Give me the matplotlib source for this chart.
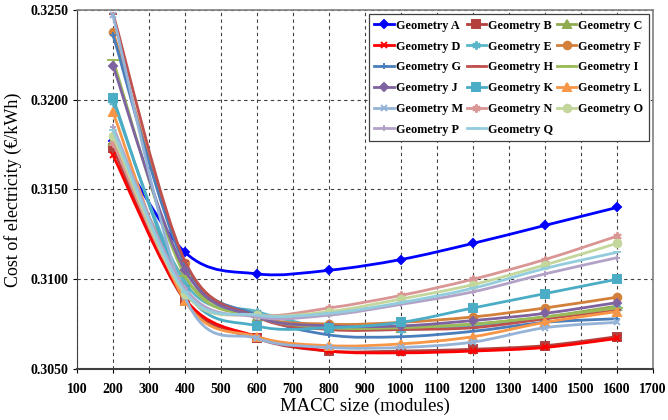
import matplotlib
matplotlib.use("Agg")
import matplotlib.pyplot as plt
from matplotlib.path import Path
from matplotlib.patches import PathPatch
from matplotlib.lines import Line2D
import numpy as np

plt.rcParams['font.family'] = ['Liberation Serif', 'DejaVu Serif']

sizes = [200, 400, 600, 800, 1000, 1200, 1400, 1600]
names = ["Geometry A", "Geometry B", "Geometry C", "Geometry D", "Geometry E", "Geometry F",
         "Geometry G", "Geometry H", "Geometry I", "Geometry J", "Geometry K", "Geometry L",
         "Geometry M", "Geometry N", "Geometry O", "Geometry P", "Geometry Q"]

geo_a = [0.3177, 0.3115, 0.3103, 0.3105, 0.3111, 0.3120, 0.3130, 0.3140]
geo_b = [0.3173, 0.3088, 0.3067, 0.3060, 0.3060, 0.3061, 0.3063, 0.3068]
geo_c = [0.3177, 0.3100, 0.3079, 0.3073, 0.3073, 0.3075, 0.3079, 0.3085]
geo_d = [0.3169, 0.3089, 0.3068, 0.3060, 0.3059, 0.3060, 0.3062, 0.3067]
geo_e = [0.3199, 0.3098, 0.3082, 0.3073, 0.3072, 0.3074, 0.3078, 0.3084]
geo_f = [0.3238, 0.3109, 0.3080, 0.3075, 0.3076, 0.3079, 0.3084, 0.3090]
geo_g = [0.3236, 0.3108, 0.3080, 0.3069, 0.3068, 0.3071, 0.3076, 0.3078]
geo_h = [0.3248, 0.3110, 0.3079, 0.3072, 0.3072, 0.3073, 0.3078, 0.3083]
geo_i = [0.3222, 0.3102, 0.3079, 0.3073, 0.3073, 0.3075, 0.3079, 0.3084]
geo_j = [0.3219, 0.3105, 0.3079, 0.3074, 0.3074, 0.3077, 0.3081, 0.3087]
geo_k = [0.3201, 0.3094, 0.3074, 0.3073, 0.3076, 0.3084, 0.3092, 0.3100]
geo_l = [0.3193, 0.3088, 0.3068, 0.3063, 0.3064, 0.3068, 0.3076, 0.3082]
geo_m = [0.3247, 0.3090, 0.3067, 0.3062, 0.3062, 0.3065, 0.3073, 0.3076]
geo_n = [0.3176, 0.3092, 0.3080, 0.3084, 0.3091, 0.3100, 0.3111, 0.3124]
geo_o = [0.3180, 0.3092, 0.3080, 0.3082, 0.3089, 0.3097, 0.3108, 0.3120]
geo_p = [0.3185, 0.3095, 0.3079, 0.3080, 0.3086, 0.3093, 0.3103, 0.3112]
geo_q = [0.3183, 0.3093, 0.3080, 0.3081, 0.3087, 0.3095, 0.3106, 0.3115]

series = [geo_a, geo_b, geo_c, geo_d, geo_e, geo_f, geo_g, geo_h, geo_i,
          geo_j, geo_k, geo_l, geo_m, geo_n, geo_o, geo_p, geo_q]

colors = ['#0000FF', '#B3403D', '#8FAA4F', '#FF0000', '#5BB5C9', '#D2803A',
          '#4A7EBB', '#C0504D', '#9BBB59', '#7F63A1', '#4BACC6', '#F79646',
          '#95B3D7', '#D99694', '#C3D69B', '#B3A2C7', '#93CDDD']
markers = ['D', 's', '^', 'x', (6, 2, 0), 'o', '+', '_', '_',
           'D', 's', '^', 'x', (6, 2, 0), 'o', '+', '_']
msizes = [4.5, 5.5, 5.5, 5, 6, 5.5, 5, 6, 8, 4.5, 5.5, 5.5, 5, 6, 5.5, 5, 6]

fig = plt.figure(figsize=(6.68, 4.2), dpi=100)
ax = fig.add_axes([77/668, 51/420, 576/668, 359/420])


def smooth_path(xs, ys):
    pts = np.column_stack([xs, ys]).astype(float)
    n = len(pts)
    verts = [pts[0]]
    codes = [Path.MOVETO]
    for i in range(n - 1):
        p0 = pts[i - 1] if i > 0 else pts[i]
        p1 = pts[i]
        p2 = pts[i + 1]
        p3 = pts[i + 2] if i + 2 < n else pts[i + 1]
        c1 = p1 + (p2 - p0) / 6.0
        c2 = p2 - (p3 - p1) / 6.0
        verts += [c1, c2, p2]
        codes += [Path.CURVE4] * 3
    return Path(verts, codes)


handles = []
for k, (vals, col, mk, ms, nm) in enumerate(zip(series, colors, markers, msizes, names)):
    patch = PathPatch(smooth_path(sizes, vals), facecolor='none', edgecolor=col,
                      lw=2.0, zorder=3 + k * 0.01, capstyle='round', joinstyle='round')
    ax.add_patch(patch)
    ax.plot(sizes, vals, linestyle='none', marker=mk, markersize=ms, color=col,
            markeredgecolor=col, markeredgewidth=1.4, zorder=3.005 + k * 0.01)
    handles.append(Line2D([0], [0], color=col, lw=2, marker=mk, markersize=ms,
                          markeredgecolor=col, markeredgewidth=1.4))

ax.set_xlim(100, 1700)
ax.set_ylim(0.3050, 0.3250)
ax.set_xticks(np.arange(100, 1701, 100))
ax.set_yticks([0.3050, 0.3100, 0.3150, 0.3200, 0.3250])
ax.set_yticklabels(['0.3050', '0.3100', '0.3150', '0.3200', '0.3250'])
for lab in ax.get_xticklabels() + ax.get_yticklabels():
    lab.set_fontweight('bold')
    lab.set_fontsize(10)
ax.tick_params(axis='x', length=3, width=0.8, pad=7, direction='out')
ax.tick_params(axis='y', length=3, width=0.8, pad=3, direction='out')

ax.grid(True, linestyle=(0, (3, 3)), color='#404040', lw=0.8, zorder=1)
ax.set_axisbelow(True)

for s in ['top', 'right']:
    ax.spines[s].set_color('#808080')
    ax.spines[s].set_linewidth(1.2)
ax.spines['left'].set_color('#404040')
ax.spines['bottom'].set_color('#404040')
ax.spines['bottom'].set_linewidth(1.5)

ax.set_xlabel('MACC size (modules)', fontsize=13.5, labelpad=1)
ax.set_ylabel('Cost of electricity (€/kWh)', fontsize=13, labelpad=6)

order = [0, 3, 6, 9, 12, 15, 1, 4, 7, 10, 13, 16, 2, 5, 8, 11, 14]
leg = ax.legend([handles[i] for i in order], [names[i] for i in order],
                ncol=3, loc='upper right', bbox_to_anchor=(0.997, 0.995),
                prop={'family': 'Liberation Serif', 'weight': 'bold', 'size': 8.8},
                frameon=True, fancybox=False, edgecolor='#404040', framealpha=1,
                handlelength=1.6, handletextpad=0.15, columnspacing=0.3,
                labelspacing=0.72, borderpad=0.45, borderaxespad=0.2)
leg.get_frame().set_linewidth(0.9)
leg.set_zorder(10)

fig.savefig('out.png', dpi=100)
